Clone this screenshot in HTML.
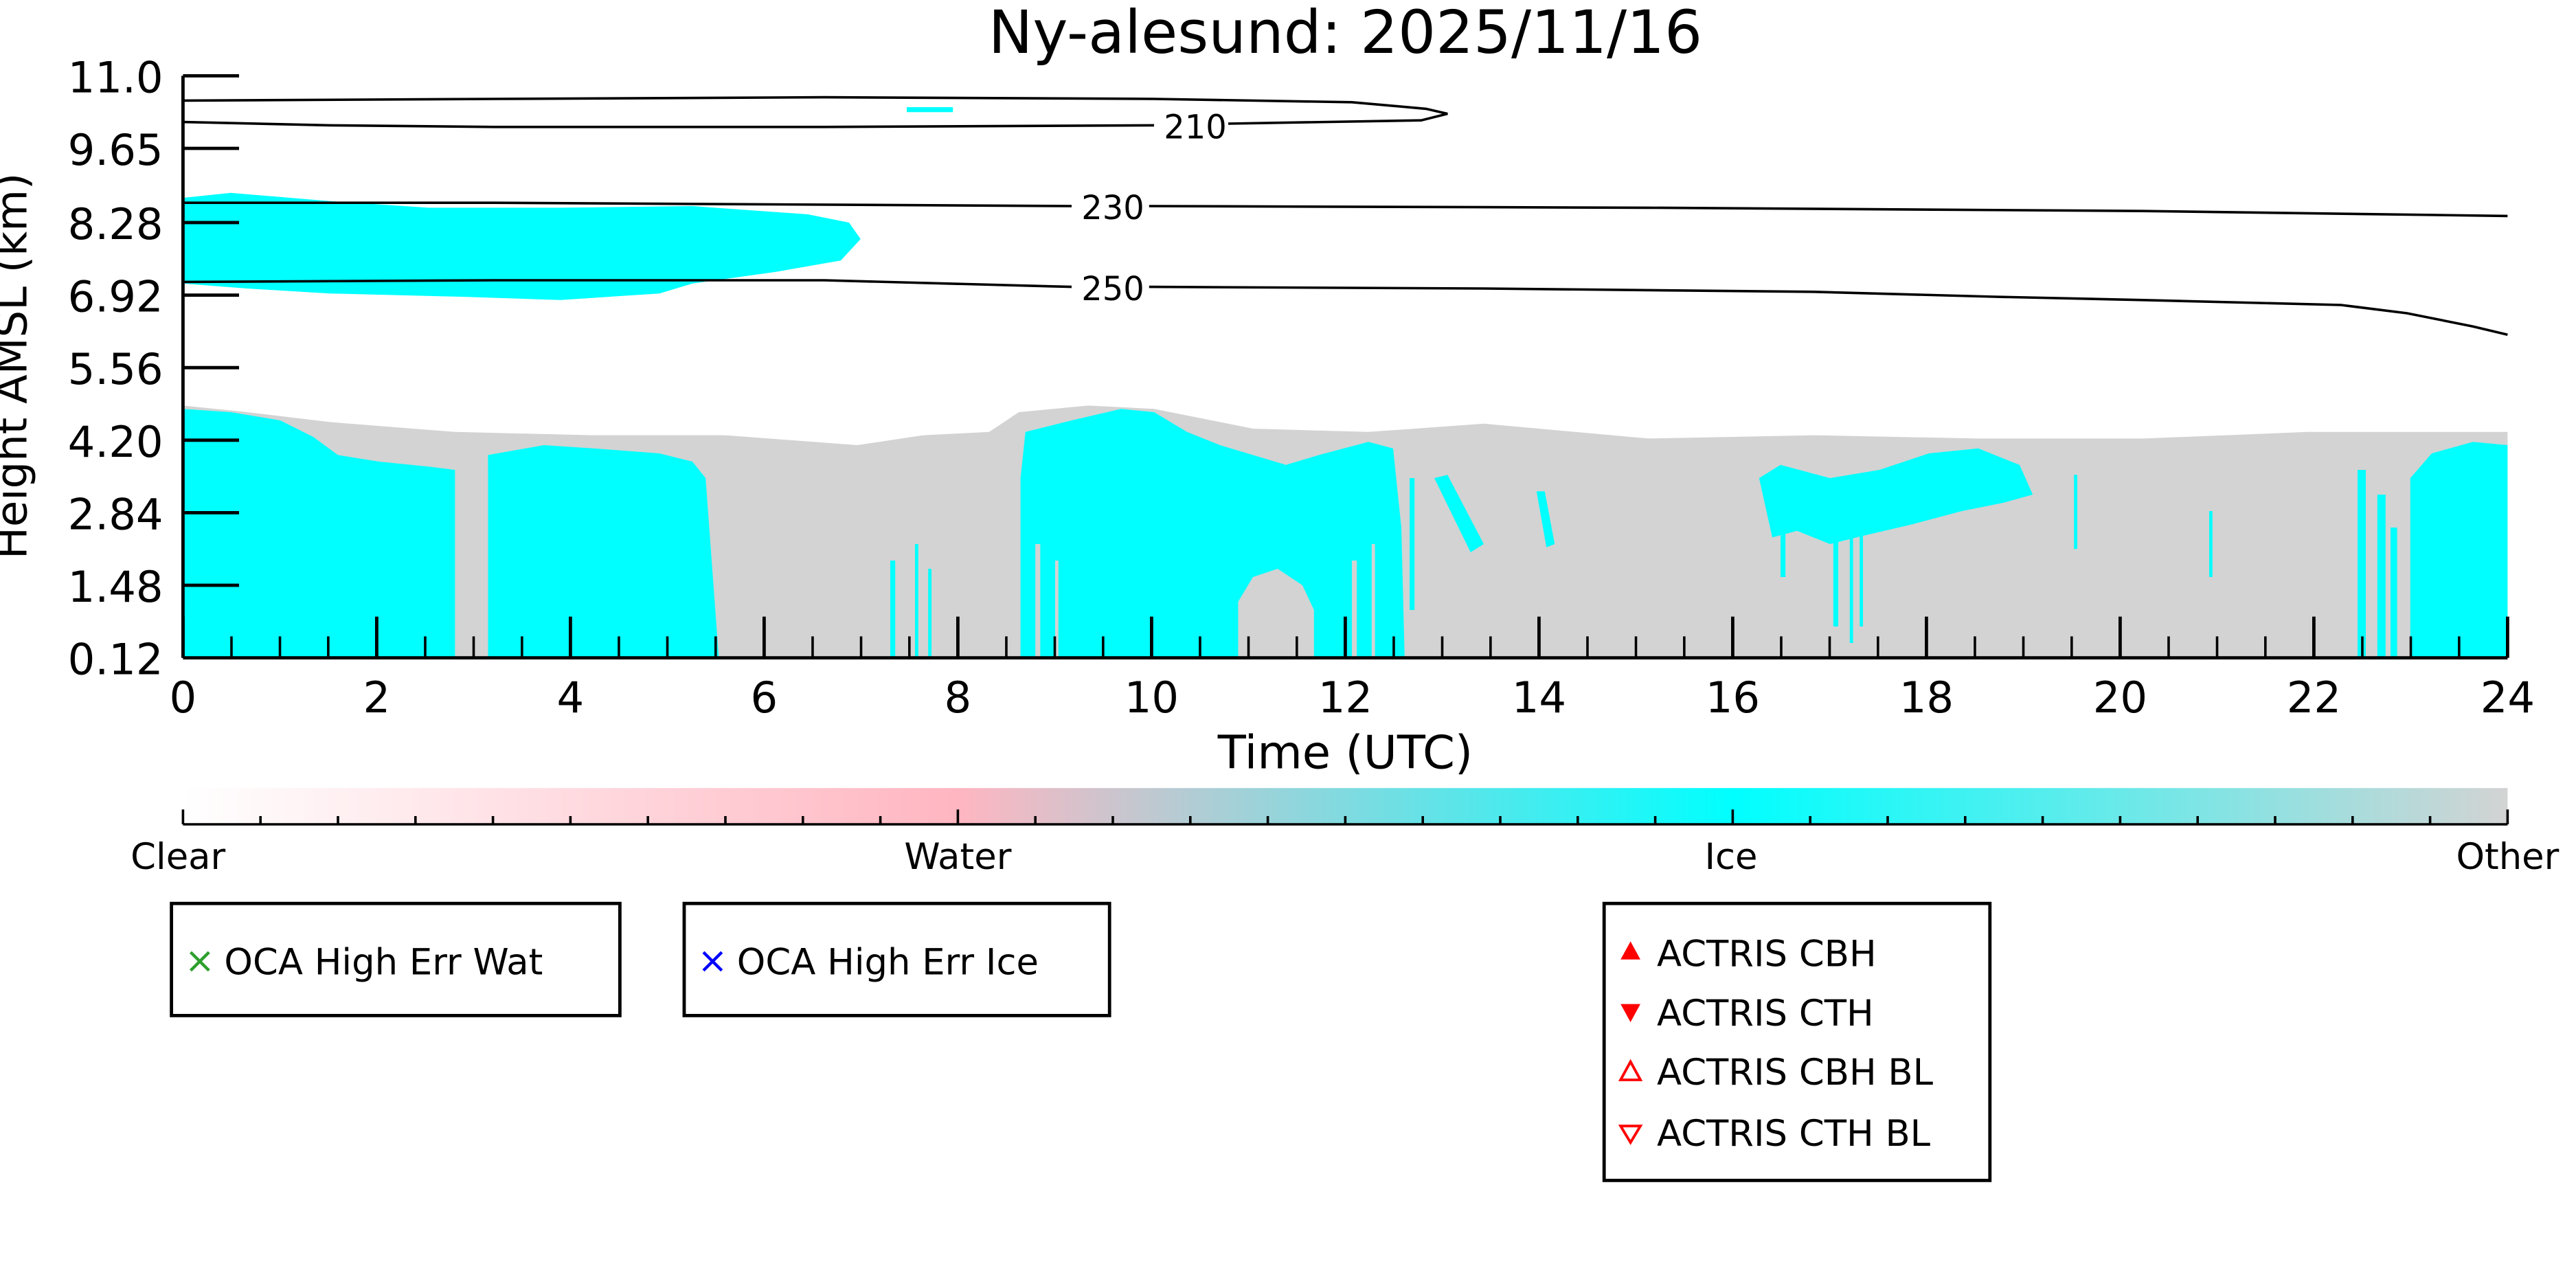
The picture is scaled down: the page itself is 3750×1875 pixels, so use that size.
<!DOCTYPE html>
<html><head><meta charset="utf-8"><style>html,body{margin:0;padding:0;background:#fff}svg{display:block}text{font-family:"DejaVu Sans","Liberation Sans",sans-serif}</style></head><body>
<svg width="3750" height="1875" viewBox="0 0 1562.5 781.25" xmlns="http://www.w3.org/2000/svg">
<defs>
<linearGradient id="cb" x1="0" x2="1" y1="0" y2="0">
<stop offset="0" stop-color="#ffffff"/><stop offset="0.333" stop-color="#ffb6c1"/><stop offset="0.667" stop-color="#00ffff"/><stop offset="1" stop-color="#d3d3d3"/>
</linearGradient>
</defs>
<rect width="1562.5" height="781.25" fill="#fff"/>
<text x="816" y="32" font-size="36" text-anchor="middle">Ny-alesund: 2025/11/16</text>
<!-- grey base -->
<path d="M111,399 L111,246 L150,250 L200,256 L276,262 L360,264 L440,264 L520,270 L560,264 L600,262 L618,250 L660,246 L700,248 L760,260 L830,262 L900,257 L1000,266 L1100,264 L1200,266 L1300,266 L1400,262 L1460,262 L1521,262 L1521,399 Z" fill="#d3d3d3"/>
<g fill="#00ffff">
<path d="M111,399 L111,248 L140,250 L170,255 L190,265 L205,276 L230,280 L260,283 L276,285 L276,399 Z"/>
<path d="M296,399 L296,276 L330,270 L360,272 L400,275 L420,280 L428,290 L436,399 Z"/>
<path d="M619,399 L619,290 L622,262 L650,255 L680,248 L700,250 L720,262 L740,270 L760,276 L780,282 L800,276 L830,268 L845,272 L850,320 L852,399 Z"/>
<path d="M1067,290 L1080,282 L1110,290 L1140,285 L1170,275 L1200,272 L1225,282 L1233,300 L1215,305 L1190,310 L1160,318 L1130,325 L1110,330 L1090,322 L1075,326 Z"/>
<rect x="1112" y="300" width="3" height="80"/><rect x="1122" y="300" width="2" height="90"/><rect x="1128" y="310" width="2" height="70"/><rect x="1080" y="300" width="3" height="50"/>
<path d="M1462,399 L1462,290 L1475,275 L1500,268 L1521,270 L1521,399 Z"/>
<rect x="1430" y="285" width="5" height="114"/><rect x="1442" y="300" width="5" height="99"/><rect x="1450" y="320" width="4" height="79"/>
<path d="M870,290 L878,288 L900,330 L892,335 Z"/>
<path d="M932,298 L937,298 L943,330 L938,332 Z"/>
<rect x="855" y="290" width="3" height="80"/>
<rect x="1258" y="288" width="2" height="45"/><rect x="1340" y="310" width="2" height="40"/>
<rect x="540" y="340" width="3" height="59"/><rect x="555" y="330" width="2" height="69"/><rect x="563" y="345" width="2" height="54"/>
<!-- upper cloud -->
<path d="M111,120 L140,117 L200,122 L260,126 L340,126 L420,125 L490,130 L515,135 L522,145 L510,158 L470,165 L420,172 L400,178 L340,182 L280,180 L200,178 L150,175 L111,172 Z"/>
<path d="M550,65 L578,65 L578,68 L550,68 Z"/>
</g>
<!-- grey overlays inside cyan -->
<g fill="#d3d3d3">
<path d="M751,399 L751,365 L760,350 L775,345 L790,355 L797,370 L797,399 Z"/>
<rect x="276" y="285" width="20" height="114"/>
<rect x="628" y="330" width="3" height="69"/><rect x="640" y="340" width="2" height="59"/><rect x="820" y="340" width="3" height="59"/><rect x="832" y="330" width="2" height="69"/>
</g>
<!-- contours -->
<g fill="none" stroke="#000" stroke-width="1.5">
<path d="M111,61 L300,60 L500,59 L700,60 L820,62 L865,66 L878,69 L862,73 L745,75"/>
<path d="M700,76 L500,77 L300,77 L200,76 L111,74"/>
<path d="M111,123 L300,123 L650,125"/>
<path d="M697,125 L1000,126 L1300,128 L1521,131"/>
<path d="M111,171 L300,170 L500,170 L650,174"/>
<path d="M697,174 L900,175 L1100,177 L1210,180 L1300,182 L1420,185 L1460,190 L1500,198 L1521,203"/>
</g>
<g font-size="20">
<text x="725" y="84" text-anchor="middle">210</text>
<text x="675" y="133" text-anchor="middle">230</text>
<text x="675" y="182" text-anchor="middle">250</text>
</g>
<!-- axes -->
<g stroke="#000" stroke-width="2">
<line x1="111" y1="46" x2="111" y2="399"/>
<line x1="111" y1="399" x2="1521" y2="399"/>
<line x1="111" y1="46" x2="145" y2="46"/><line x1="111" y1="90" x2="145" y2="90"/><line x1="111" y1="135" x2="145" y2="135"/><line x1="111" y1="179" x2="145" y2="179"/><line x1="111" y1="223" x2="145" y2="223"/><line x1="111" y1="267" x2="145" y2="267"/><line x1="111" y1="311" x2="145" y2="311"/><line x1="111" y1="355" x2="145" y2="355"/>
</g>
<g stroke="#000" stroke-width="2">
<line x1="111" y1="399" x2="111" y2="374"/><line x1="228.5" y1="399" x2="228.5" y2="374"/><line x1="346" y1="399" x2="346" y2="374"/><line x1="463.5" y1="399" x2="463.5" y2="374"/><line x1="581" y1="399" x2="581" y2="374"/><line x1="698.5" y1="399" x2="698.5" y2="374"/><line x1="816" y1="399" x2="816" y2="374"/><line x1="933.5" y1="399" x2="933.5" y2="374"/><line x1="1051" y1="399" x2="1051" y2="374"/><line x1="1168.5" y1="399" x2="1168.5" y2="374"/><line x1="1286" y1="399" x2="1286" y2="374"/><line x1="1403.5" y1="399" x2="1403.5" y2="374"/><line x1="1521" y1="399" x2="1521" y2="374"/>
</g>
<g stroke="#000" stroke-width="1.5">
<line x1="140.4" y1="399" x2="140.4" y2="386"/><line x1="169.8" y1="399" x2="169.8" y2="386"/><line x1="199.1" y1="399" x2="199.1" y2="386"/>
<line x1="257.9" y1="399" x2="257.9" y2="386"/><line x1="287.3" y1="399" x2="287.3" y2="386"/><line x1="316.6" y1="399" x2="316.6" y2="386"/>
<line x1="375.4" y1="399" x2="375.4" y2="386"/><line x1="404.8" y1="399" x2="404.8" y2="386"/><line x1="434.1" y1="399" x2="434.1" y2="386"/>
<line x1="492.9" y1="399" x2="492.9" y2="386"/><line x1="522.3" y1="399" x2="522.3" y2="386"/><line x1="551.6" y1="399" x2="551.6" y2="386"/>
<line x1="610.4" y1="399" x2="610.4" y2="386"/><line x1="639.8" y1="399" x2="639.8" y2="386"/><line x1="669.1" y1="399" x2="669.1" y2="386"/>
<line x1="727.9" y1="399" x2="727.9" y2="386"/><line x1="757.3" y1="399" x2="757.3" y2="386"/><line x1="786.6" y1="399" x2="786.6" y2="386"/>
<line x1="845.4" y1="399" x2="845.4" y2="386"/><line x1="874.8" y1="399" x2="874.8" y2="386"/><line x1="904.1" y1="399" x2="904.1" y2="386"/>
<line x1="962.9" y1="399" x2="962.9" y2="386"/><line x1="992.3" y1="399" x2="992.3" y2="386"/><line x1="1021.6" y1="399" x2="1021.6" y2="386"/>
<line x1="1080.4" y1="399" x2="1080.4" y2="386"/><line x1="1109.8" y1="399" x2="1109.8" y2="386"/><line x1="1139.1" y1="399" x2="1139.1" y2="386"/>
<line x1="1197.9" y1="399" x2="1197.9" y2="386"/><line x1="1227.3" y1="399" x2="1227.3" y2="386"/><line x1="1256.6" y1="399" x2="1256.6" y2="386"/>
<line x1="1315.4" y1="399" x2="1315.4" y2="386"/><line x1="1344.8" y1="399" x2="1344.8" y2="386"/><line x1="1374.1" y1="399" x2="1374.1" y2="386"/>
<line x1="1432.9" y1="399" x2="1432.9" y2="386"/><line x1="1462.3" y1="399" x2="1462.3" y2="386"/><line x1="1491.6" y1="399" x2="1491.6" y2="386"/>
</g>
<g font-size="26" text-anchor="end">
<text x="99" y="56">11.0</text><text x="99" y="100">9.65</text><text x="99" y="145">8.28</text><text x="99" y="189">6.92</text><text x="99" y="233">5.56</text><text x="99" y="277">4.20</text><text x="99" y="321">2.84</text><text x="99" y="365">1.48</text><text x="99" y="409">0.12</text>
</g>
<g font-size="26" text-anchor="middle">
<text x="111" y="432">0</text><text x="228.5" y="432">2</text><text x="346" y="432">4</text><text x="463.5" y="432">6</text><text x="581" y="432">8</text><text x="698.5" y="432">10</text><text x="816" y="432">12</text><text x="933.5" y="432">14</text><text x="1051" y="432">16</text><text x="1168.5" y="432">18</text><text x="1286" y="432">20</text><text x="1403.5" y="432">22</text><text x="1521" y="432">24</text>
<text x="816" y="466" font-size="28">Time (UTC)</text>
<text transform="translate(16,222) rotate(-90)" font-size="26">Height AMSL (km)</text>
</g>
<!-- colorbar -->
<rect x="111" y="478" width="1410" height="22" fill="url(#cb)"/>
<line x1="111" y1="500" x2="1521" y2="500" stroke="#000" stroke-width="1.5"/>
<g stroke="#000" stroke-width="1.5">
<line x1="111" y1="500" x2="111" y2="491"/><line x1="581" y1="500" x2="581" y2="491"/><line x1="1051" y1="500" x2="1051" y2="491"/><line x1="1521" y1="500" x2="1521" y2="491"/>
<line x1="158" y1="500" x2="158" y2="495"/><line x1="205" y1="500" x2="205" y2="495"/><line x1="252" y1="500" x2="252" y2="495"/><line x1="299" y1="500" x2="299" y2="495"/><line x1="346" y1="500" x2="346" y2="495"/><line x1="393" y1="500" x2="393" y2="495"/><line x1="440" y1="500" x2="440" y2="495"/><line x1="487" y1="500" x2="487" y2="495"/><line x1="534" y1="500" x2="534" y2="495"/>
<line x1="628" y1="500" x2="628" y2="495"/><line x1="675" y1="500" x2="675" y2="495"/><line x1="722" y1="500" x2="722" y2="495"/><line x1="769" y1="500" x2="769" y2="495"/><line x1="816" y1="500" x2="816" y2="495"/><line x1="863" y1="500" x2="863" y2="495"/><line x1="910" y1="500" x2="910" y2="495"/><line x1="957" y1="500" x2="957" y2="495"/><line x1="1004" y1="500" x2="1004" y2="495"/>
<line x1="1098" y1="500" x2="1098" y2="495"/><line x1="1145" y1="500" x2="1145" y2="495"/><line x1="1192" y1="500" x2="1192" y2="495"/><line x1="1239" y1="500" x2="1239" y2="495"/><line x1="1286" y1="500" x2="1286" y2="495"/><line x1="1333" y1="500" x2="1333" y2="495"/><line x1="1380" y1="500" x2="1380" y2="495"/><line x1="1427" y1="500" x2="1427" y2="495"/><line x1="1474" y1="500" x2="1474" y2="495"/>
</g>
<g font-size="22" text-anchor="middle">
<text x="108" y="527">Clear</text><text x="581" y="527">Water</text><text x="1050" y="527">Ice</text><text x="1521" y="527">Other</text>
</g>
<g fill="none" stroke="#000" stroke-width="2">
<rect x="104" y="548" width="272" height="68"/>
<rect x="415" y="548" width="258" height="68"/>
<rect x="973" y="548" width="234" height="168"/>
</g>
<g font-size="22">
<text x="112" y="590" fill="#2ca02c">×</text><text x="136" y="591">OCA High Err Wat</text>
<text x="423" y="590" fill="#0000ff">×</text><text x="447" y="591">OCA High Err Ice</text>
<text x="1005" y="586">ACTRIS CBH</text>
<text x="1005" y="622">ACTRIS CTH</text>
<text x="1005" y="658">ACTRIS CBH BL</text>
<text x="1005" y="695">ACTRIS CTH BL</text>
</g>
<polygon points="989,571 995,582 983,582" fill="#f00"/>
<polygon points="983,609 995,609 989,620" fill="#f00"/>
<polygon points="989,644 995,655 983,655" fill="none" stroke="#f00" stroke-width="1.6"/>
<polygon points="983,683 995,683 989,693" fill="none" stroke="#f00" stroke-width="1.6"/>
</svg>
</body></html>
